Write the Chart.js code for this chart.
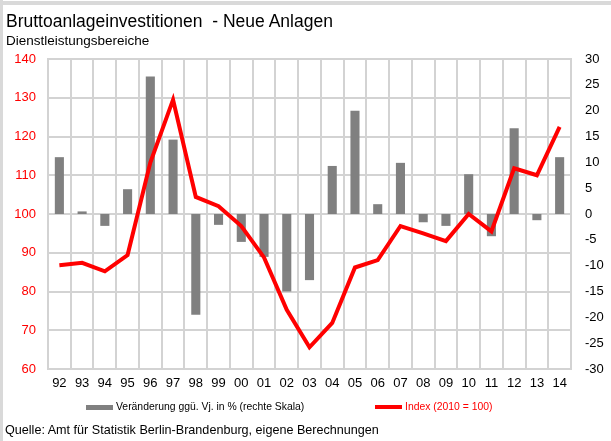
<!DOCTYPE html>
<html lang="de">
<head>
<meta charset="utf-8">
<title>Bruttoanlageinvestitionen - Neue Anlagen</title>
<script src="https://cdn.jsdelivr.net/npm/chart.js@4/dist/chart.umd.min.js"></script>
<style>
  html, body { margin: 0; padding: 0; background: #fff; }
  body { width: 611px; height: 441px; position: relative; overflow: hidden;
         font-family: Arial, "Liberation Sans", sans-serif; color: #000; }
  #frameTop  { position: absolute; left: 0; top: 1px; width: 611px; height: 4px; background: #d9d9d9; }
  #frameLeft { position: absolute; left: 0; top: 0; width: 3px; height: 441px; background: #d9d9d9; }
  #chartBox  { position: absolute; left: 0; top: 0; width: 611px; height: 441px; }
  .txt { position: absolute; white-space: nowrap; line-height: 1; }
  #title    { left: 6px; top: 13px; font-size: 17.5px; }
  #subtitle { left: 6px; top: 34px; font-size: 13.5px; }
  #source   { left: 5px; top: 424px; font-size: 12.6px; }
  #legend   { position: absolute; left: 0; top: 399px; width: 611px; height: 16px; font-size: 10.4px; }
  .legItem  { position: absolute; top: 0; height: 16px; }
  .legItem span { position: absolute; top: 2px; white-space: nowrap; }
  .swatch   { position: absolute; }
</style>
</head>
<body>
<div id="chartBox"><canvas id="investChart" width="611" height="441"></canvas></div>
<div id="frameTop"></div>
<div id="frameLeft"></div>
<div id="title" class="txt">Bruttoanlageinvestitionen&nbsp; - Neue Anlagen</div>
<div id="subtitle" class="txt">Dienstleistungsbereiche</div>
<div id="legend"></div>
<div id="source" class="txt">Quelle: Amt für Statistik Berlin-Brandenburg, eigene Berechnungen</div>

<script>
// Jahre 1992-2014
const years = ["92", "93", "94", "95", "96", "97", "98", "99", "00", "01", "02", "03",
               "04", "05", "06", "07", "08", "09", "10", "11", "12", "13", "14"];

// Veränderung gegenüber Vorjahr in % (rechte Skala)
const changePct = [11.0, 0.5, -2.3, 4.8, 26.6, 14.4, -19.5, -2.1, -5.4, -8.3, -15.0, -12.8,
                   9.3, 20.0, 1.9, 9.9, -1.6, -2.3, 7.7, -4.3, 16.6, -1.2, 11.0];

// Index 2010 = 100 (linke Skala)
const indexValues = [86.8, 87.4, 85.2, 89.4, 113.3, 129.5, 104.4, 102.0, 96.9, 88.8, 75.3, 65.6,
                     71.9, 86.2, 88.1, 96.9, 95.0, 93.0, 100.0, 95.5, 111.8, 110.0, 122.5];

const leftTicks  = { min: 60, max: 140, step: 10 };
const rightTicks = { min: -30, max: 30, step: 5 };

const barLabel  = "Veränderung ggü. Vj. in % (rechte Skala)";
const lineLabel = "Index (2010 = 100)";

const GRID = "#d3d3d3";
const BAR_COLOR = "#808080";
const LINE_COLOR = "#ff0000";
const FONT = { family: "Arial, 'Liberation Sans', sans-serif", size: 13 };

const chart = new Chart(document.getElementById("investChart"), {
  type: "bar",
  data: {
    labels: years,
    datasets: [
      {
        type: "line",
        label: lineLabel,
        data: indexValues,
        yAxisID: "yLeft",
        borderColor: LINE_COLOR,
        backgroundColor: LINE_COLOR,
        borderWidth: 4,
        pointRadius: 0,
        tension: 0,
        order: 0
      },
      {
        type: "bar",
        label: barLabel,
        data: changePct,
        yAxisID: "yRight",
        backgroundColor: BAR_COLOR,
        categoryPercentage: 1,
        barPercentage: 0.4,
        order: 1
      }
    ]
  },
  options: {
    responsive: false,
    devicePixelRatio: 1,
    animation: false,
    layout: { padding: { top: 59, left: 0, right: 0, bottom: 0 } },
    plugins: {
      legend: { display: false },
      tooltip: { enabled: false },
      title: { display: false }
    },
    scales: {
      x: {
        offset: true,
        grid: { color: GRID, lineWidth: 2, drawTicks: false, offset: true },
        border: { color: GRID, width: 2 },
        ticks: { color: "#000", font: FONT, padding: 7, maxRotation: 0, autoSkip: false },
        afterFit: scale => { scale.height = 72; }
      },
      yLeft: {
        position: "left",
        min: leftTicks.min,
        max: leftTicks.max,
        grid: { color: GRID, lineWidth: 2, drawTicks: false },
        border: { color: GRID, width: 2 },
        ticks: { stepSize: leftTicks.step, color: LINE_COLOR, font: FONT, padding: 12 },
        afterFit: scale => { scale.width = 48; }
      },
      yRight: {
        position: "right",
        min: rightTicks.min,
        max: rightTicks.max,
        grid: { display: false, drawTicks: false },
        border: { color: GRID, width: 2 },
        ticks: { stepSize: rightTicks.step, color: "#000", font: FONT, padding: 14 },
        afterFit: scale => { scale.width = 40; }
      }
    }
  }
});

// Legende unter dem Diagramm
const legendItems = [
  { label: barLabel,  color: BAR_COLOR,  left: 86,  swatchH: 5, textColor: "#000" },
  { label: lineLabel, color: LINE_COLOR, left: 375, swatchH: 4, textColor: LINE_COLOR }
];
const legendEl = document.getElementById("legend");
legendItems.forEach(item => {
  const wrap = document.createElement("div");
  wrap.className = "legItem";
  wrap.style.left = item.left + "px";
  const sw = document.createElement("div");
  sw.className = "swatch";
  sw.style.cssText = `left:0;top:${8 - item.swatchH / 2}px;width:27px;height:${item.swatchH}px;background:${item.color}`;
  const tx = document.createElement("span");
  tx.textContent = item.label;
  tx.style.left = "30px";
  tx.style.color = item.textColor;
  wrap.appendChild(sw);
  wrap.appendChild(tx);
  legendEl.appendChild(wrap);
});
</script>
</body>
</html>
